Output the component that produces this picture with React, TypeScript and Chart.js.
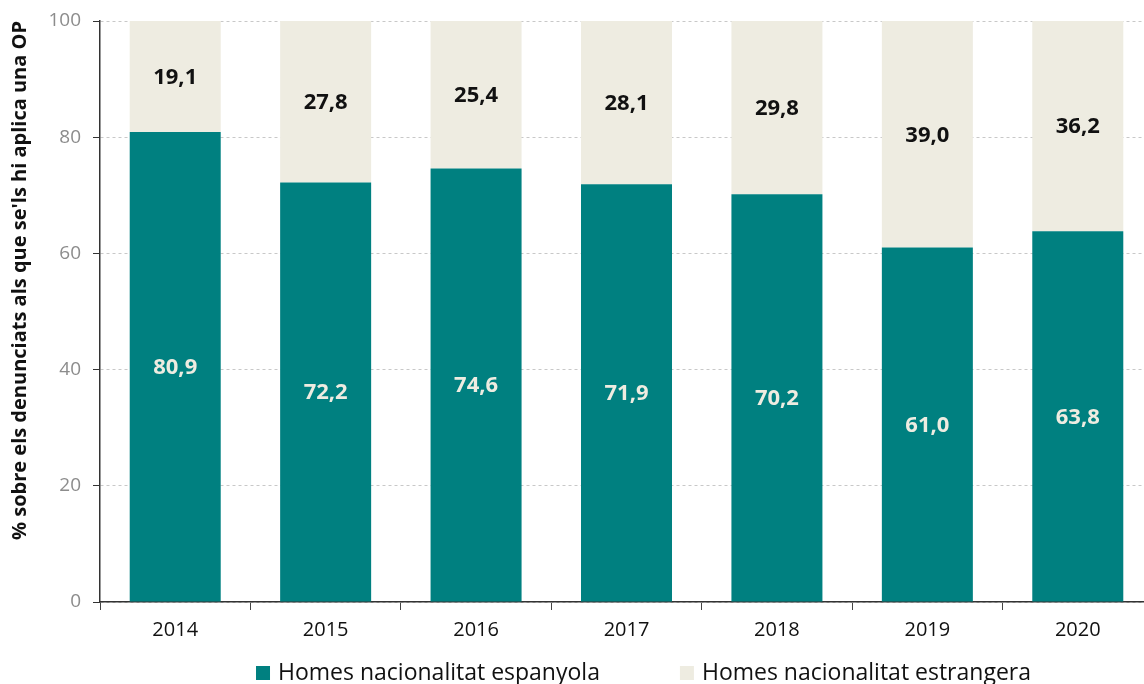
import React, { useEffect, useRef } from "react";
import { Chart, registerables } from "chart.js";

Chart.register(...registerables);

const categories = ["2014", "2015", "2016", "2017", "2018", "2019", "2020"];
const spanish = [80.9, 72.2, 74.6, 71.9, 70.2, 61.0, 63.8];
const foreign = [19.1, 27.8, 25.4, 28.1, 29.8, 39.0, 36.2];
const yTicks = [0, 20, 40, 60, 80, 100];
const seriesNames = ["Homes nacionalitat espanyola", "Homes nacionalitat estrangera"];

const FONT = "'Open Sans', Lato, sans-serif";
const TEAL = "#008080";
const BEIGE = "#EEECE1";

const labelPlugin = {
  id: "barLabels",
  afterDatasetsDraw(chart: any) {
    const ctx = chart.ctx;
    ctx.save();
    ctx.font = `bold 22px ${FONT}`;
    ctx.textAlign = "center";
    ctx.textBaseline = "middle";
    chart.data.datasets.forEach((ds: any, di: number) => {
      const meta = chart.getDatasetMeta(di);
      meta.data.forEach((bar: any, i: number) => {
        const v = ds.data[i] as number;
        const y = (bar.y + bar.base) / 2;
        ctx.fillStyle = di === 0 ? BEIGE : "#111";
        ctx.fillText(v.toFixed(1).replace(".", ","), bar.x, y + 1);
      });
    });
    ctx.restore();
  },
};

const legendPlugin = {
  id: "bottomLegend",
  afterDraw(chart: any) {
    const ctx = chart.ctx;
    ctx.save();
    ctx.font = `23px ${FONT}`;
    ctx.textBaseline = "middle";
    ctx.textAlign = "left";
    const box = 14;
    const gap = 8;
    const spacing = 80;
    const items = chart.data.datasets.map((ds: any) => ({
      text: ds.label,
      color: ds.backgroundColor,
      w: box + gap + ctx.measureText(ds.label).width,
    }));
    const total = items.reduce((s: number, it: any) => s + it.w, 0) + spacing * (items.length - 1);
    let x = 643.5 - total / 2;
    const cy = 673;
    items.forEach((it: any) => {
      ctx.fillStyle = it.color;
      ctx.fillRect(x, cy - box / 2, box, box);
      ctx.fillStyle = "#111";
      ctx.fillText(it.text, x + box + gap, cy);
      x += it.w + spacing;
    });
    ctx.restore();
  },
};

export default function App() {
  const ref = useRef<HTMLCanvasElement | null>(null);
  useEffect(() => {
    if (!ref.current) return;
    const chart = new Chart(ref.current, {
      type: "bar",
      data: {
        labels: categories,
        datasets: [
          { label: seriesNames[0], data: spanish, backgroundColor: TEAL, borderWidth: 0 },
          { label: seriesNames[1], data: foreign, backgroundColor: BEIGE, borderWidth: 0 },
        ],
      },
      options: {
        animation: false,
        responsive: false,
        maintainAspectRatio: false,
        layout: { padding: { top: 21, right: 3, bottom: 34, left: 0 } },
        datasets: { bar: { categoryPercentage: 1, barPercentage: 0.605 } },
        plugins: {
          legend: { display: false },
          tooltip: { enabled: false },
        },
        scales: {
          x: {
            stacked: true,
            grid: {
              offset: true,
              drawOnChartArea: false,
              tickLength: 8,
              tickColor: "#444",
            },
            border: { display: true, color: "#333", width: 1.5 },
            ticks: { color: "#111", font: { family: FONT, size: 20 }, padding: 8 },
          },
          y: {
            stacked: true,
            min: 0,
            max: 100,
            afterBuildTicks: (axis: any) => {
              axis.ticks = yTicks.map((v) => ({ value: v }));
            },
            afterFit: (axis: any) => {
              axis.width = 100;
              axis.paddingTop = 0;
            },
            grid: {
              color: "#c8c8c8",
              tickLength: 7,
              tickColor: "#333",
              tickBorderDash: [],
            },
            border: { display: true, color: "#333", width: 1.5, dash: [3, 3] },
            ticks: { color: "#8c8c8c", font: { family: FONT, size: 19 }, padding: 12 },
            title: {
              display: true,
              align: "end",
              text: "% sobre els denunciats als que se'ls hi aplica una OP",
              color: "#111",
              font: { family: FONT, size: 20, weight: "bold" },
              padding: { top: 8, bottom: 0 },
            },
          },
        },
      },
      plugins: [labelPlugin, legendPlugin],
    });
    return () => chart.destroy();
  }, []);
  return (
    <div style={{ position: "fixed", left: 0, top: 0, width: 1144, height: 684, overflow: "hidden", background: "#fff" }}>
      <canvas ref={ref} width={1156} height={684} style={{ width: 1156, height: 684, display: "block" }} />
    </div>
  );
}
